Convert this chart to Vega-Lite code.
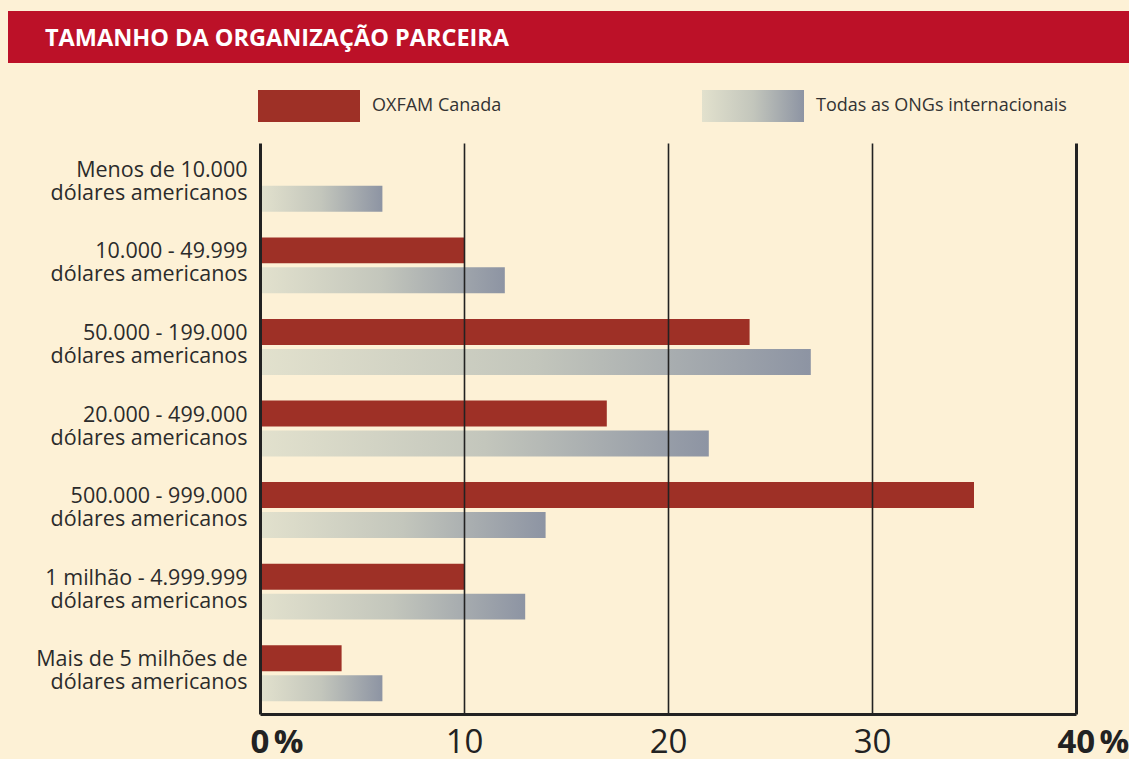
{
  "$schema": "https://vega.github.io/schema/vega-lite/v6.json",
  "background": "#fdf1d6",
  "padding": {"left": 8, "top": 11, "right": 0, "bottom": 0},
  "config": {"font": "Open Sans"},
  "resolve": {"legend": {"color": "independent", "opacity": "independent"}},
  "concat": [
    {
      "width": 1121,
      "height": 52,
      "view": {"fill": "#bc1128", "stroke": null},
      "data": {"values": [{"t": "TAMANHO DA ORGANIZAÇÃO PARCEIRA"}]},
      "mark": {"type": "text", "align": "left", "baseline": "alphabetic", "font": "Open Sans", "fontSize": 23.5, "fontWeight": "bold", "color": "#ffffff"},
      "encoding": {"text": {"field": "t"}, "x": {"value": 37}, "y": {"value": 35}}
    },
    {
      "width": 1121,
      "height": 571,
      "view": {"stroke": null},
      "data": {"values": [
        {"cat": "Menos de 10.000 dólares americanos", "serie": "OXFAM Canada", "v": 0},
        {"cat": "Menos de 10.000 dólares americanos", "serie": "Todas as ONGs internacionais", "v": 6},
        {"cat": "10.000 - 49.999 dólares americanos", "serie": "OXFAM Canada", "v": 10},
        {"cat": "10.000 - 49.999 dólares americanos", "serie": "Todas as ONGs internacionais", "v": 12},
        {"cat": "50.000 - 199.000 dólares americanos", "serie": "OXFAM Canada", "v": 24},
        {"cat": "50.000 - 199.000 dólares americanos", "serie": "Todas as ONGs internacionais", "v": 27},
        {"cat": "20.000 - 499.000 dólares americanos", "serie": "OXFAM Canada", "v": 17},
        {"cat": "20.000 - 499.000 dólares americanos", "serie": "Todas as ONGs internacionais", "v": 22},
        {"cat": "500.000 - 999.000 dólares americanos", "serie": "OXFAM Canada", "v": 35},
        {"cat": "500.000 - 999.000 dólares americanos", "serie": "Todas as ONGs internacionais", "v": 14},
        {"cat": "1 milhão - 4.999.999 dólares americanos", "serie": "OXFAM Canada", "v": 10},
        {"cat": "1 milhão - 4.999.999 dólares americanos", "serie": "Todas as ONGs internacionais", "v": 13},
        {"cat": "Mais de 5 milhões de dólares americanos", "serie": "OXFAM Canada", "v": 4},
        {"cat": "Mais de 5 milhões de dólares americanos", "serie": "Todas as ONGs internacionais", "v": 6}
      ]},
      "encoding": {
        "y": {
          "field": "cat", "type": "nominal",
          "sort": ["Menos de 10.000 dólares americanos", "10.000 - 49.999 dólares americanos", "50.000 - 199.000 dólares americanos", "20.000 - 499.000 dólares americanos", "500.000 - 999.000 dólares americanos", "1 milhão - 4.999.999 dólares americanos", "Mais de 5 milhões de dólares americanos"],
          "scale": {"paddingInner": 0.314, "paddingOuter": 0.157},
          "axis": {
            "title": null, "domain": false, "ticks": false, "grid": false, "offset": -252,
            "labelExpr": "[replace(datum.label, ' dólares americanos', ''), 'dólares americanos']",
            "labelFont": "Open Sans", "labelFontSize": 21.5, "labelColor": "#2b2b2b",
            "labelLineHeight": 23, "labelOffset": -13, "labelPadding": 13, "labelLimit": 300
          }
        },
        "yOffset": {"field": "serie", "type": "nominal", "scale": {"domain": ["OXFAM Canada", "Todas as ONGs internacionais"], "paddingInner": 0.133, "paddingOuter": 0}},
        "x": {
          "field": "v", "type": "quantitative",
          "scale": {"domain": [0, 40], "nice": false, "range": [252, 1068]},
          "axis": {
            "title": null, "values": [0, 10, 20, 30, 40], "zindex": 1,
            "domain": true, "domainColor": "#222222", "domainWidth": 3,
            "ticks": false, "tickSize": 0,
            "grid": true, "gridColor": "#222222",
            "gridWidth": {"condition": {"test": "datum.value == 0 || datum.value == 40", "value": 3}, "value": 1.6},
            "labelExpr": "datum.value == 0 ? '0\u202f%' : datum.value == 40 ? '40\u202f%' : datum.label",
            "labelFont": "Open Sans", "labelColor": "#222222",
            "labelFontSize": {"condition": {"test": "datum.value == 0 || datum.value == 40", "value": 33}, "value": 33},
            "labelFontWeight": {"condition": {"test": "datum.value == 0 || datum.value == 40", "value": "bold"}, "value": "normal"},
            "labelAlign": {"condition": {"test": "datum.value == 0 || datum.value == 40", "value": "left"}, "value": "center"},
            "labelOffset": {"condition": [{"test": "datum.value == 0", "value": -10}, {"test": "datum.value == 40", "value": -19}], "value": 0},
            "labelBaseline": "alphabetic", "labelPadding": 38,
            "labelOverlap": false, "labelBound": false, "labelFlush": false
          }
        }
      },
      "layer": [
        {
          "transform": [{"filter": "datum.serie == 'OXFAM Canada'"}],
          "mark": {"type": "bar", "strokeWidth": 0},
          "encoding": {
            "color": {
              "field": "serie", "type": "nominal",
              "scale": {"domain": ["OXFAM Canada"], "range": ["#9e3026"]},
              "legend": {
                "orient": "none", "legendX": 250, "legendY": -88,
                "title": null,
                "symbolType": "M-1,-0.314H1V0.314H-1Z", "symbolSize": 10404,
                "symbolStrokeWidth": 0, "symbolOpacity": 1,
                "labelOffset": 12, "labelFont": "Open Sans", "labelFontSize": 18, "labelColor": "#333333", "labelLimit": 400
              }
            }
          }
        },
        {
          "transform": [{"filter": "datum.serie == 'Todas as ONGs internacionais'"}],
          "mark": {"type": "bar", "strokeWidth": 0, "fill": {"gradient": "linear", "x1": 0, "x2": 1, "y1": 0, "y2": 0, "stops": [{"offset": 0, "color": "#e2e1cd"}, {"offset": 0.5, "color": "#c3c6bc"}, {"offset": 1, "color": "#8d94a3"}]}},
          "encoding": {
            "opacity": {
              "field": "serie", "type": "nominal",
              "scale": {"domain": ["Todas as ONGs internacionais"], "range": [1]},
              "legend": {
                "orient": "none", "legendX": 694, "legendY": -88,
                "title": null,
                "symbolType": "M-1,-0.314H1V0.314H-1Z", "symbolSize": 10404,
                "symbolStrokeWidth": 0, "symbolOpacity": 1,
                "labelOffset": 12, "labelFont": "Open Sans", "labelFontSize": 18, "labelColor": "#333333", "labelLimit": 400
              }
            }
          }
        }
      ]
    }
  ],
  "columns": 1,
  "bounds": "flush",
  "spacing": 80
}
